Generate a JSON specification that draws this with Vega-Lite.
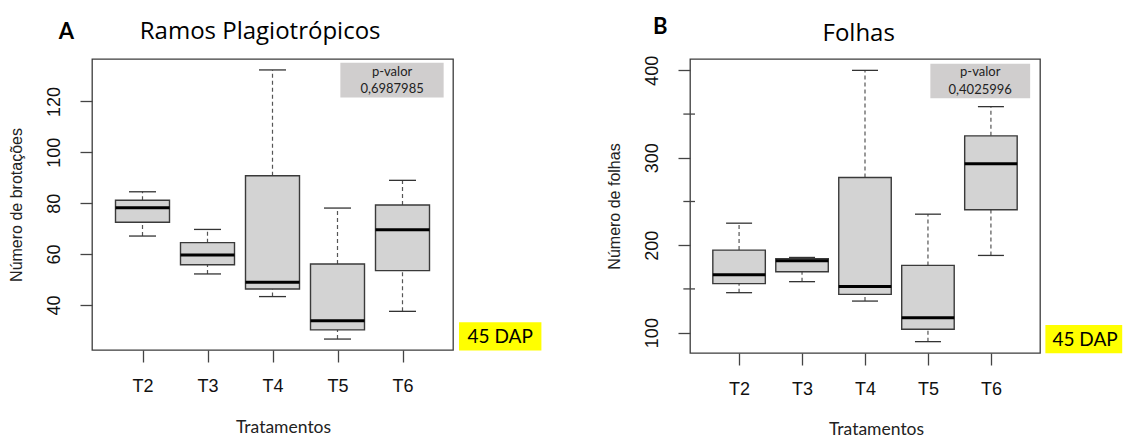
{
  "$schema": "https://vega.github.io/schema/vega-lite/v6.json",
  "background": "white",
  "padding": {"left": 7, "top": 15, "right": 0, "bottom": 0},
  "config": {
    "view": {"stroke": "#3c3c3c", "strokeWidth": 1.3},
    "concat": {"spacing": 62},
    "axis": {"domain": false, "grid": false, "tickColor": "#444", "tickSize": 12, "tickWidth": 1.3, "labelFont": "Liberation Sans", "labelFontSize": 18, "labelColor": "#111", "titleFontWeight": "normal", "titleColor": "#222"},
    "axisY": {"labelAngle": 270, "labelAlign": "center", "labelBaseline": "alphabetic", "labelPadding": 21, "titleFont": "Liberation Sans", "titleFontSize": 16, "titlePadding": 21},
    "axisX": {"labelPadding": 15, "labelBaseline": "top", "titleFont": "Lato", "titleFontSize": 17.5, "titleBaseline": "alphabetic", "titleY": 82},
    "text": {"font": "Lato", "fontWeight": "normal"}
  },
  "datasets": {
    "brot": [
      {"tratamento": 2, "lower": 67.1, "q1": 72.5, "median": 78.2, "q3": 81.2, "upper": 84.5},
      {"tratamento": 3, "lower": 52.2, "q1": 55.8, "median": 59.6, "q3": 64.5, "upper": 69.7},
      {"tratamento": 4, "lower": 43.3, "q1": 46.3, "median": 48.9, "q3": 90.8, "upper": 132.4},
      {"tratamento": 5, "lower": 26.6, "q1": 30.2, "median": 33.8, "q3": 56.1, "upper": 78.1},
      {"tratamento": 6, "lower": 37.5, "q1": 53.5, "median": 69.6, "q3": 79.3, "upper": 89.0}
    ],
    "folhas": [
      {"tratamento": 2, "lower": 145.7, "q1": 156.0, "median": 166.3, "q3": 194.4, "upper": 225.2},
      {"tratamento": 3, "lower": 158.3, "q1": 169.7, "median": 182.3, "q3": 184.5, "upper": 186.0},
      {"tratamento": 4, "lower": 136.1, "q1": 143.8, "median": 152.9, "q3": 277.4, "upper": 400},
      {"tratamento": 5, "lower": 89.7, "q1": 103.8, "median": 117.1, "q3": 176.9, "upper": 235.5},
      {"tratamento": 6, "lower": 188.3, "q1": 240.5, "median": 293.1, "q3": 325.1, "upper": 358.5}
    ]
  },
  "hconcat": [
    {
      "width": 361,
      "height": 291,
      "layer": [
        {"data": {"name": "brot"}, "mark": {"type": "rule", "strokeDash": [4, 3], "color": "#555", "strokeWidth": 1.2},
         "encoding": {
           "x": {"field": "tratamento", "type": "quantitative", "scale": {"domain": [1.3, 6.7], "nice": false, "zero": false},
                 "axis": {"values": [2, 3, 4, 5, 6], "labelExpr": "'T' + datum.value", "titleX": 191}, "title": "Tratamentos"},
           "y": {"field": "q3", "type": "quantitative", "title": "Número de brotações", "scale": {"domain": [22.3, 136.7], "nice": false, "zero": false}, "axis": {"values": [40, 60, 80, 100, 120]}},
           "y2": {"field": "upper"}}},
        {"data": {"name": "brot"}, "mark": {"type": "rule", "strokeDash": [4, 3], "color": "#555", "strokeWidth": 1.2},
         "encoding": {"x": {"field": "tratamento", "type": "quantitative", "title": "Tratamentos"}, "y": {"field": "lower", "type": "quantitative", "title": "Número de brotações"}, "y2": {"field": "q1"}}},
        {"data": {"name": "brot"}, "mark": {"type": "tick", "orient": "horizontal", "size": 27, "thickness": 1.3, "color": "#333", "opacity": 1},
         "encoding": {"x": {"field": "tratamento", "type": "quantitative", "title": "Tratamentos"}, "y": {"field": "upper", "type": "quantitative", "title": "Número de brotações"}}},
        {"data": {"name": "brot"}, "mark": {"type": "tick", "orient": "horizontal", "size": 27, "thickness": 1.3, "color": "#333", "opacity": 1},
         "encoding": {"x": {"field": "tratamento", "type": "quantitative", "title": "Tratamentos"}, "y": {"field": "lower", "type": "quantitative", "title": "Número de brotações"}}},
        {"data": {"name": "brot"}, "mark": {"type": "bar", "size": 54, "fill": "#d3d3d3", "stroke": "#3a3a3a", "strokeWidth": 1.4},
         "encoding": {"x": {"field": "tratamento", "type": "quantitative", "title": "Tratamentos"}, "y": {"field": "q1", "type": "quantitative", "title": "Número de brotações"}, "y2": {"field": "q3"}}},
        {"data": {"name": "brot"}, "mark": {"type": "tick", "orient": "horizontal", "size": 54, "thickness": 3, "color": "#000", "opacity": 1},
         "encoding": {"x": {"field": "tratamento", "type": "quantitative", "title": "Tratamentos"}, "y": {"field": "median", "type": "quantitative", "title": "Número de brotações"}}},
        {"data": {"values": [{"texto": "p-valor"}]}, "mark": {"type": "rect", "fill": "#d0cece"},
         "encoding": {"x": {"datum": 5.044}, "x2": {"datum": 6.633}, "y": {"datum": 121.6}, "y2": {"datum": 135.2}}},
        {"data": {"values": [{"texto": "p-valor"}]}, "mark": {"type": "text", "font": "Lato", "fontSize": 13, "fill": "#222"},
         "encoding": {"x": {"datum": 5.84}, "y": {"datum": 131.6}, "text": {"field": "texto"}}},
        {"data": {"values": [{"texto": "0,6987985"}]}, "mark": {"type": "text", "font": "Lato", "fontSize": 13, "fill": "#222"},
         "encoding": {"x": {"datum": 5.84}, "y": {"datum": 124.8}, "text": {"field": "texto"}}},
        {"data": {"values": [{"texto": "45 DAP"}]}, "mark": {"type": "rect", "fill": "#ffff00"},
         "encoding": {"x": {"datum": 6.869}, "x2": {"datum": 8.137}, "y": {"datum": 22.1}, "y2": {"datum": 33.2}}},
        {"data": {"values": [{"texto": "45 DAP"}]}, "mark": {"type": "text", "font": "Lato", "fontSize": 19, "fill": "#000"},
         "encoding": {"x": {"datum": 7.503}, "y": {"datum": 27.6}, "text": {"field": "texto"}}},
        {"data": {"values": [{"texto": "A"}]}, "mark": {"type": "text", "font": "Lato", "fontSize": 22, "fontWeight": "bold", "fill": "#000"},
         "encoding": {"x": {"datum": 0.83}, "y": {"datum": 147.4}, "text": {"field": "texto"}}},
        {"data": {"values": [{"texto": "Ramos Plagiotrópicos"}]}, "mark": {"type": "text", "font": "Open Sans", "fontSize": 24, "fill": "#000", "baseline": "alphabetic"},
         "encoding": {"x": {"datum": 3.81}, "y": {"datum": 144.5}, "text": {"field": "texto"}}}
      ]
    },
    {
      "width": 350,
      "height": 294,
      "layer": [
        {"data": {"name": "folhas"}, "mark": {"type": "rule", "strokeDash": [4, 3], "color": "#555", "strokeWidth": 1.2},
         "encoding": {
           "x": {"field": "tratamento", "type": "quantitative", "scale": {"domain": [1.3, 6.7], "nice": false, "zero": false},
                 "axis": {"values": [2, 3, 4, 5, 6], "labelExpr": "'T' + datum.value", "titleX": 186, "titleY": 81}, "title": "Tratamentos"},
           "y": {"field": "q3", "type": "quantitative", "title": "Número de folhas", "scale": {"domain": [76.7, 413], "nice": false, "zero": false}, "axis": {"values": [100, 200, 300, 400]}},
           "y2": {"field": "upper"}}},
        {"data": {"name": "folhas"}, "mark": {"type": "rule", "strokeDash": [4, 3], "color": "#555", "strokeWidth": 1.2},
         "encoding": {"x": {"field": "tratamento", "type": "quantitative", "title": "Tratamentos"}, "y": {"field": "lower", "type": "quantitative", "title": "Número de folhas"}, "y2": {"field": "q1"}}},
        {"data": {"name": "folhas"}, "mark": {"type": "tick", "orient": "horizontal", "size": 26, "thickness": 1.3, "color": "#333", "opacity": 1},
         "encoding": {"x": {"field": "tratamento", "type": "quantitative", "title": "Tratamentos"}, "y": {"field": "upper", "type": "quantitative", "title": "Número de folhas"}}},
        {"data": {"name": "folhas"}, "mark": {"type": "tick", "orient": "horizontal", "size": 26, "thickness": 1.3, "color": "#333", "opacity": 1},
         "encoding": {"x": {"field": "tratamento", "type": "quantitative", "title": "Tratamentos"}, "y": {"field": "lower", "type": "quantitative", "title": "Número de folhas"}}},
        {"data": {"name": "folhas"}, "mark": {"type": "bar", "size": 52.5, "fill": "#d3d3d3", "stroke": "#3a3a3a", "strokeWidth": 1.4},
         "encoding": {"x": {"field": "tratamento", "type": "quantitative", "title": "Tratamentos"}, "y": {"field": "q1", "type": "quantitative", "title": "Número de folhas"}, "y2": {"field": "q3"}}},
        {"data": {"name": "folhas"}, "mark": {"type": "tick", "orient": "horizontal", "size": 52.5, "thickness": 3, "color": "#000", "opacity": 1},
         "encoding": {"x": {"field": "tratamento", "type": "quantitative", "title": "Tratamentos"}, "y": {"field": "median", "type": "quantitative", "title": "Número de folhas"}}},
        {"data": {"values": [{"tick": "150"}, {"tick": "250"}, {"tick": "350"}]}, "mark": {"type": "rule", "color": "#444", "strokeWidth": 1.3},
         "encoding": {"x": {"datum": 1.115}, "x2": {"datum": 1.3}, "y": {"field": "tick", "type": "quantitative", "title": "Número de folhas"}}},
        {"data": {"values": [{"texto": "p-valor"}]}, "mark": {"type": "rect", "fill": "#d0cece"},
         "encoding": {"x": {"datum": 5.038}, "x2": {"datum": 6.623}, "y": {"datum": 368.0}, "y2": {"datum": 407.7}}},
        {"data": {"values": [{"texto": "p-valor"}]}, "mark": {"type": "text", "font": "Lato", "fontSize": 13, "fill": "#222"},
         "encoding": {"x": {"datum": 5.83}, "y": {"datum": 398.2}, "text": {"field": "texto"}}},
        {"data": {"values": [{"texto": "0,4025996"}]}, "mark": {"type": "text", "font": "Lato", "fontSize": 13, "fill": "#222"},
         "encoding": {"x": {"datum": 5.83}, "y": {"datum": 378.0}, "text": {"field": "texto"}}},
        {"data": {"values": [{"texto": "45 DAP"}]}, "mark": {"type": "rect", "fill": "#ffff00"},
         "encoding": {"x": {"datum": 6.865}, "x2": {"datum": 8.085}, "y": {"datum": 76.4}, "y2": {"datum": 108.7}}},
        {"data": {"values": [{"texto": "45 DAP"}]}, "mark": {"type": "text", "font": "Lato", "fontSize": 19, "fill": "#000"},
         "encoding": {"x": {"datum": 7.495}, "y": {"datum": 91.2}, "text": {"field": "texto"}}},
        {"data": {"values": [{"texto": "B"}]}, "mark": {"type": "text", "font": "Lato", "fontSize": 22, "fontWeight": "bold", "fill": "#000"},
         "encoding": {"x": {"datum": 0.75}, "y": {"datum": 449.9}, "text": {"field": "texto"}}},
        {"data": {"values": [{"texto": "Folhas"}]}, "mark": {"type": "text", "font": "Open Sans", "fontSize": 24, "fill": "#000", "baseline": "alphabetic"},
         "encoding": {"x": {"datum": 3.9}, "y": {"datum": 434}, "text": {"field": "texto"}}}
      ]
    }
  ]
}
